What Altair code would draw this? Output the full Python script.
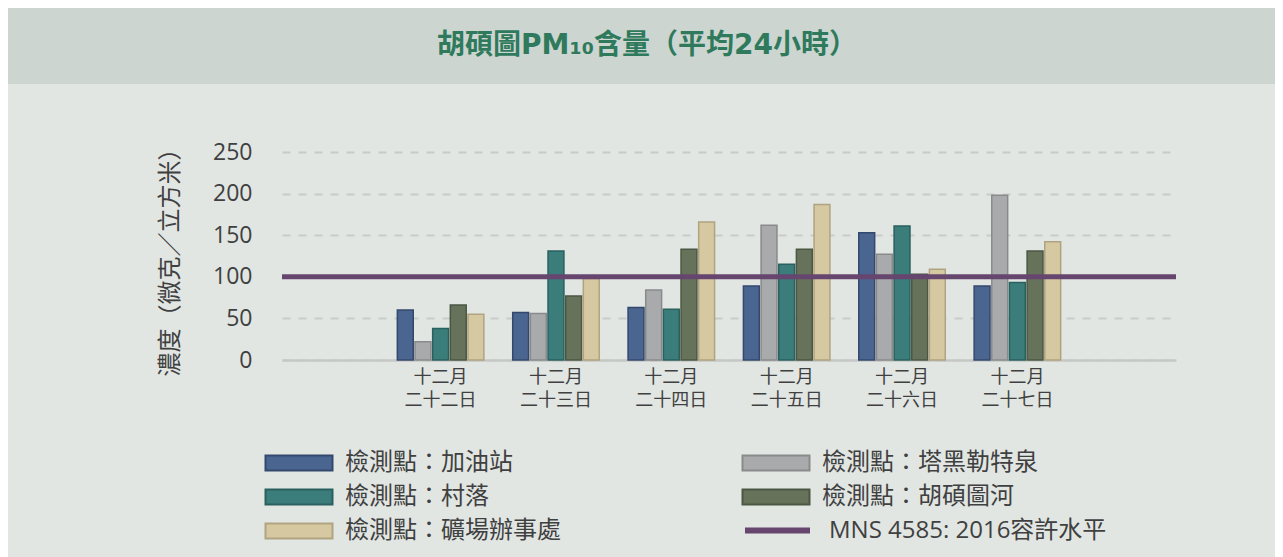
import altair as alt
import pandas as pd

# ---- data ----
dates = ["十二月 二十二日", "十二月 二十三日", "十二月 二十四日",
         "十二月 二十五日", "十二月 二十六日", "十二月 二十七日"]
series = ["檢測點：加油站", "檢測點：塔黑勒特泉", "檢測點：村落",
          "檢測點：胡碩圖河", "檢測點：礦場辦事處"]
gas_station = [60, 57, 63, 89, 153, 89]
taheilte = [22, 56, 84, 162, 127, 198]
village = [38, 131, 61, 115, 161, 93]
river = [66, 77, 133, 133, 103, 131]
mine_office = [55, 98, 166, 187, 109, 142]
limit_label = "MNS 4585: 2016容許水平"
limit_value = [100]
title_text = "胡碩圖PM₁₀含量（平均24小時）"
y_title = "濃度（微克／立方米）"

# legend reading order (legend fills column by column)
legend_order = [series[0], series[2], series[4], series[1], series[3]]

fills = ["#4a6590", "#a9aaac", "#3a7d7b", "#66735a", "#d6c8a0"]
strokes = ["#34486e", "#898a8c", "#2a605e", "#4b5743", "#b0a381"]
fill_map = dict(zip(series, fills))
stroke_map = dict(zip(series, strokes))
purple = "#66466e"
band_color = "#ccd5d0"
bg_color = "#e1e6e3"
text_color = "#404040"
font = "Open Sans, Noto Sans CJK TC"

rows = []
for s, vals in zip(series, [gas_station, taheilte, village, river, mine_office]):
    for d, v in zip(dates, vals):
        rows.append({"date": d, "series": s, "value": v})
df = pd.DataFrame(rows)

rule_df = pd.DataFrame({"label": [limit_label], "value": limit_value})
title_df = pd.DataFrame({"t": [title_text]})

W, H = 894, 208
PAD_L, PAD_T, PAD_R, PAD_B = 274, 144, 99, 210

legend_common = dict(
    title=None, orient="none", legendX=-1, legendY=293, columns=2,
    columnPadding=177, rowPadding=4,
    symbolType="M-2,-0.448H2V0.448H-2Z", symbolSize=1122.25, symbolStrokeWidth=2,
    labelFont=font, labelFontSize=24, labelColor=text_color, labelOffset=28,
    labelLimit=400,
)

bars = alt.Chart(df).mark_bar(strokeWidth=1.5).encode(
    x=alt.X("date:N", sort=dates, title=None,
            scale=alt.Scale(paddingInner=0.25, paddingOuter=1),
            axis=alt.Axis(labelExpr="split(datum.label, ' ')", labelAngle=0,
                          labelFont=font, labelFontSize=18, labelColor=text_color,
                          labelLineHeight=23, labelPadding=8, ticks=False,
                          domain=True, domainColor="#c6c8c6", domainWidth=2.5,
                          grid=False)),
    xOffset=alt.XOffset("series:N", sort=series, scale=alt.Scale(paddingInner=0.1)),
    y=alt.Y("value:Q", title=y_title,
            scale=alt.Scale(domain=[0, 250], nice=False),
            axis=alt.Axis(values=[0, 50, 100, 150, 200, 250], ticks=False, domain=False,
                          labelFont=font, labelFontSize=23, labelColor=text_color,
                          labelPadding=30, grid=True, gridColor="#c8cbc9",
                          gridDash=[8, 8], gridWidth=2,
                          titleFont=font, titleFontSize=24, titleColor=text_color,
                          titleFontWeight="normal", titlePadding=30)),
    fill=alt.Fill("series:N",
                  scale=alt.Scale(domain=legend_order,
                                  range=[fill_map[s] for s in legend_order]),
                  legend=alt.Legend(**legend_common)),
    stroke=alt.Stroke("series:N",
                      scale=alt.Scale(domain=legend_order,
                                      range=[stroke_map[s] for s in legend_order]),
                      legend=alt.Legend(**legend_common)),
)

rule = alt.Chart(rule_df).mark_rule(strokeWidth=5).encode(
    y=alt.Y("value:Q"),
    color=alt.Color("label:N", scale=alt.Scale(range=[purple]),
                    legend=alt.Legend(title=None, orient="none", legendX=460,
                                      legendY=343,
                                      symbolType="stroke", symbolSize=4225,
                                      symbolStrokeWidth=6,
                                      labelFont=font, labelFontSize=24,
                                      labelColor=text_color, labelOffset=16,
                                      labelLimit=400)),
)

header = alt.Chart(title_df).mark_rect(color=band_color).encode(
    x=alt.value(-PAD_L), x2=alt.value(W + PAD_R), y=alt.value(-PAD_T), y2=alt.value(-68)
)
title = alt.Chart(title_df).mark_text(
    font="DejaVu Sans, Noto Sans CJK TC", fontSize=28, fontWeight="bold", color="#2f7a5c",
    align="center", baseline="middle"
).encode(x=alt.value(365), y=alt.value(-106), text="t:N")

chart = alt.layer(header, bars, rule, title).properties(
    width=W, height=H,
    autosize=alt.AutoSizeParams(type="none"),
    padding={"left": PAD_L, "top": PAD_T, "right": PAD_R, "bottom": PAD_B},
    background=bg_color,
).configure_view(stroke=None).resolve_scale(y="shared")

chart.save("out.html", embed_options={"renderer": "svg", "actions": False})
